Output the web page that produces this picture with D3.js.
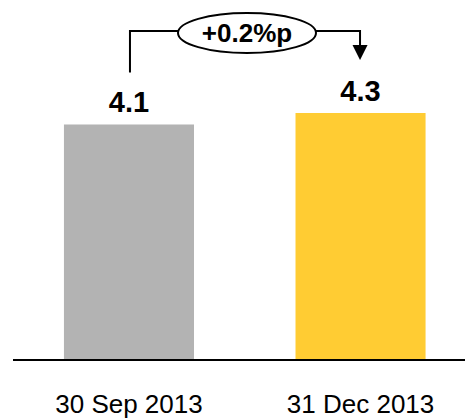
<!DOCTYPE html>
<html>
<head>
<meta charset="utf-8">
<script src="https://cdn.jsdelivr.net/npm/d3@7"></script>
<style>
  html, body { margin: 0; padding: 0; background: #fff; }
  svg { display: block; font-family: Arial, "Liberation Sans", Helvetica, sans-serif; }
</style>
</head>
<body>
<svg id="chart" width="465" height="419"></svg>
<script>
// Chart data
const categories = ["30 Sep 2013", "31 Dec 2013"];
const values = [4.1, 4.3];
const valueLabels = ["4.1", "4.3"];
const barColors = ["#b3b3b3", "#ffcc33"];
const changeLabel = "+0.2%p";

const W = 465, H = 419;
const svg = d3.select("#chart");

const baseline = 360;
const x = d3.scaleBand()
  .domain(categories)
  .range([13, 476.5])
  .paddingInner(0.4384)
  .paddingOuter(0.22);

const y = d3.scaleLinear()
  .domain([0, 4.3])
  .range([baseline, 113]);

// Bars
svg.selectAll("rect.bar")
  .data(values)
  .join("rect")
  .attr("class", "bar")
  .attr("x", (d, i) => x(categories[i]))
  .attr("y", d => y(d))
  .attr("width", x.bandwidth())
  .attr("height", d => y(0) - y(d))
  .attr("fill", (d, i) => barColors[i]);

// Value labels
svg.selectAll("text.val")
  .data(values)
  .join("text")
  .attr("class", "val")
  .attr("x", (d, i) => x(categories[i]) + x.bandwidth() / 2)
  .attr("y", d => y(d) - 12)
  .attr("text-anchor", "middle")
  .attr("font-size", 29)
  .attr("font-weight", "bold")
  .attr("fill", "#000")
  .text((d, i) => valueLabels[i]);

// Baseline axis
const xAxis = d3.axisBottom(x).tickSize(0).tickPadding(0);
const ax = svg.append("g").attr("transform", `translate(0,${baseline})`).call(xAxis);
ax.select(".domain").remove();
ax.append("line")
  .attr("x1", 13).attr("x2", W)
  .attr("y1", 0).attr("y2", 0)
  .attr("stroke", "#000").attr("stroke-width", 2);
ax.selectAll(".tick text")
  .attr("dy", 0)
  .attr("y", 53)
  .attr("font-size", 26)
  .attr("font-family", "Arial, 'Liberation Sans', sans-serif")
  .attr("fill", "#000");

// Change bracket with arrow
const cx0 = x(categories[0]) + x.bandwidth() / 2 + 1;
const cx1 = x(categories[1]) + x.bandwidth() / 2 - 0.5;
const bracketY = 31;
const startY = y(values[0]) - 52;
const tipY = y(values[1]) - 53;
const ell = { cx: (cx0 + cx1) / 2 + 2, cy: 33, rx: 69, ry: 20 };

const g = svg.append("g");
g.append("path")
  .attr("d", `M${cx0},${startY}V${bracketY}H${ell.cx - ell.rx}M${ell.cx + ell.rx},${bracketY}H${cx1}V${tipY - 14}`)
  .attr("fill", "none")
  .attr("stroke", "#000")
  .attr("stroke-width", 2);
g.append("path")
  .attr("d", `M${cx1 - 7.5},${tipY - 15}L${cx1 + 7.5},${tipY - 15}L${cx1},${tipY}Z`)
  .attr("fill", "#000");
g.append("ellipse")
  .attr("cx", ell.cx).attr("cy", ell.cy)
  .attr("rx", ell.rx).attr("ry", ell.ry)
  .attr("fill", "#fff")
  .attr("stroke", "#000")
  .attr("stroke-width", 2);
g.append("text")
  .attr("x", ell.cx)
  .attr("y", 41.5)
  .attr("text-anchor", "middle")
  .attr("font-size", 26)
  .attr("font-weight", "bold")
  .attr("fill", "#000")
  .text(changeLabel);
</script>
</body>
</html>
